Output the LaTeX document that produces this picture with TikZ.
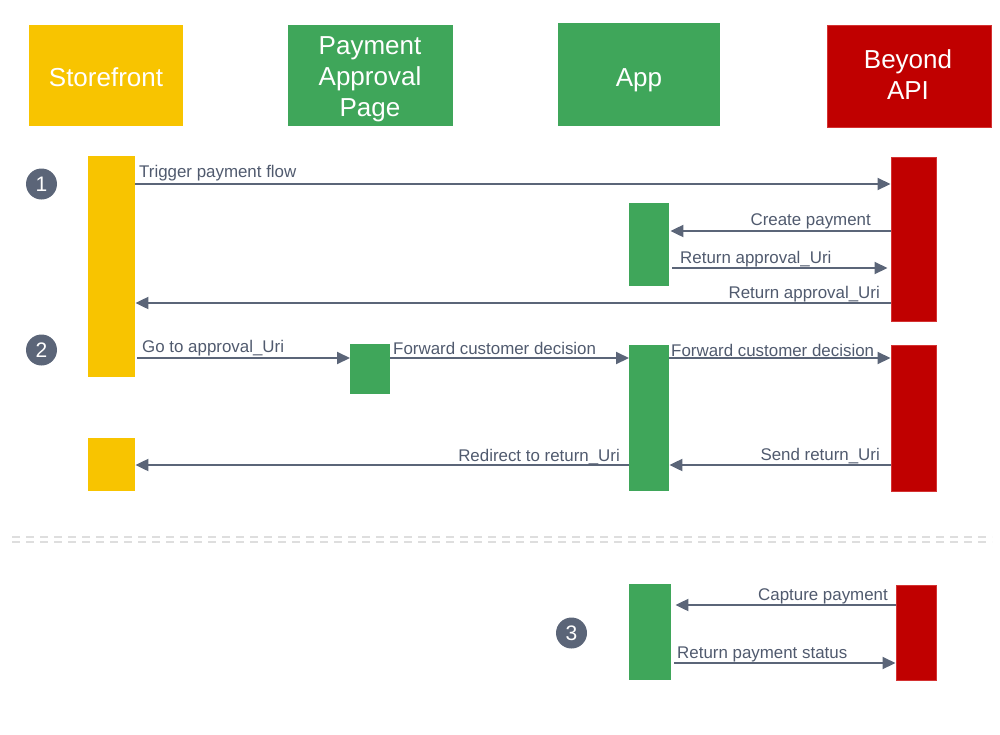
\documentclass[tikz,border=0pt]{standalone}
\usepackage{fontspec}
\setmainfont{Liberation Sans}
\usetikzlibrary{arrows.meta}
\definecolor{sfY}{RGB}{248,196,0}
\definecolor{gG}{RGB}{63,166,90}
\definecolor{rR}{RGB}{192,0,0}
\definecolor{rB}{RGB}{212,50,50}
\definecolor{slate}{RGB}{91,101,120}
\definecolor{lbl}{RGB}{80,90,110}
\definecolor{dsh}{RGB}{222,222,222}
\tikzset{
  hdr/.style={inner sep=0pt, anchor=north west},
  htxt/.style={inner sep=0pt, text=white, align=center, font=\fontsize{26}{31}\selectfont},
  bar/.style={inner sep=0pt, anchor=north west},
  msg/.style={draw=slate, line width=2pt, -{Triangle[length=13pt,width=12pt]}},
  lab/.style={inner sep=0pt, text=lbl, font=\fontsize{16.9}{20}\selectfont},
  num/.style={circle, fill=slate, minimum size=31pt, inner sep=0pt, text=white, font=\fontsize{21}{24}\selectfont},
  sep/.style={draw=dsh, line width=2pt, dash pattern=on 8pt off 6pt}
}
\begin{document}
\begin{tikzpicture}[x=1pt,y=-1pt]
\useasboundingbox (0,0) rectangle (1000,734);
% headers
\node[hdr, fill=sfY, minimum width=154pt, minimum height=101pt] (hsf) at (29,25) {};
\node[hdr, fill=gG, minimum width=165pt, minimum height=101pt] (hpap) at (288,25) {};
\node[hdr, fill=gG, minimum width=162pt, minimum height=103pt] (happ) at (558,23) {};
\node[hdr, fill=rR, draw=rB, line width=1pt, minimum width=164pt, minimum height=102pt] (hapi) at (826.5,24.5) {};
\node[htxt, anchor=base] (tsf) at (106,86) {Storefront};
\node[htxt, anchor=base] (tpap) at (370,116) {Payment\\Approval\\Page};
\node[htxt, anchor=base] (tapp) at (639,86) {App};
\node[htxt, anchor=base] (tapi) at (908,99) {Beyond\\API};
% activation bars
\node[bar, fill=sfY, minimum width=47pt, minimum height=221pt] (sf1) at (88,156) {};
\node[bar, fill=sfY, minimum width=47pt, minimum height=53pt] (sf2) at (88,438) {};
\node[bar, fill=rR, draw=rB, line width=1pt, minimum width=45pt, minimum height=164pt] (api1) at (890.5,156.5) {};
\node[bar, fill=gG, minimum width=40pt, minimum height=83pt] (app1) at (629,203) {};
\node[bar, fill=gG, minimum width=40pt, minimum height=50pt] (pap1) at (350,344) {};
\node[bar, fill=gG, minimum width=40pt, minimum height=146pt] (app2) at (629,345) {};
\node[bar, fill=rR, draw=rB, line width=1pt, minimum width=45pt, minimum height=146pt] (api2) at (890.5,344.5) {};
\node[bar, fill=gG, minimum width=42pt, minimum height=96pt] (app3) at (629,584) {};
\node[bar, fill=rR, draw=rB, line width=1pt, minimum width=40pt, minimum height=95pt] (api3) at (895.5,584.5) {};
% step numbers
\node[num] (n1) at (41.5,184) {1};
\node[num] (n2) at (41.5,350) {2};
\node[num] (n3) at (571.5,633) {3};
% messages
\draw[msg] (sf1.east |- 0,184) -- (api1.west |- 0,184);
\node[lab, anchor=base west] (l1) at (139,177) {Trigger payment flow};
\draw[msg] (api1.west |- 0,231) -- ([xshift=1pt]app1.east |- 0,231);
\node[lab, anchor=base east] (l2) at (871,225) {Create payment};
\draw[msg] ([xshift=3pt]app1.east |- 0,268) -- ([xshift=-3pt]api1.west |- 0,268);
\node[lab, anchor=base west] (l3) at (680,263) {Return approval\_Uri};
\draw[msg] (api1.west |- 0,303) -- (sf1.east |- 0,303);
\node[lab, anchor=base east] (l4) at (880,298) {Return approval\_Uri};
\draw[msg] ([xshift=2pt]sf1.east |- 0,358) -- (pap1.west |- 0,358);
\node[lab, anchor=base west] (l5) at (142,352) {Go to approval\_Uri};
\draw[msg] (pap1.east |- 0,358) -- (app2.west |- 0,358);
\node[lab, anchor=base west] (l6) at (393,354) {Forward customer decision};
\draw[msg] (app2.east |- 0,358) -- (api2.west |- 0,358);
\node[lab, anchor=base west] (l7) at (671,356) {Forward customer decision};
\draw[msg] (api2.west |- 0,465) -- (app2.east |- 0,465);
\node[lab, anchor=base east] (l8) at (880,460) {Send return\_Uri};
\draw[msg] (app2.west |- 0,465) -- (sf2.east |- 0,465);
\node[lab, anchor=base east] (l9) at (620,461) {Redirect to return\_Uri};
\draw[msg] (api3.west |- 0,605) -- ([xshift=4pt]app3.east |- 0,605);
\node[lab, anchor=base east] (l10) at (888,600) {Capture payment};
\draw[msg] ([xshift=3pt]app3.east |- 0,663) -- (api3.west |- 0,663);
\node[lab, anchor=base west] (l11) at (677,658) {Return payment status};
% separator
\coordinate (sa) at (12,536.5);
\coordinate (sb) at (992,536.5);
\coordinate (sc) at (12,542);
\coordinate (sd) at (992,542);
\draw[sep] (sa) -- (sb);
\draw[sep] (sc) -- (sd);
\end{tikzpicture}
\end{document}
